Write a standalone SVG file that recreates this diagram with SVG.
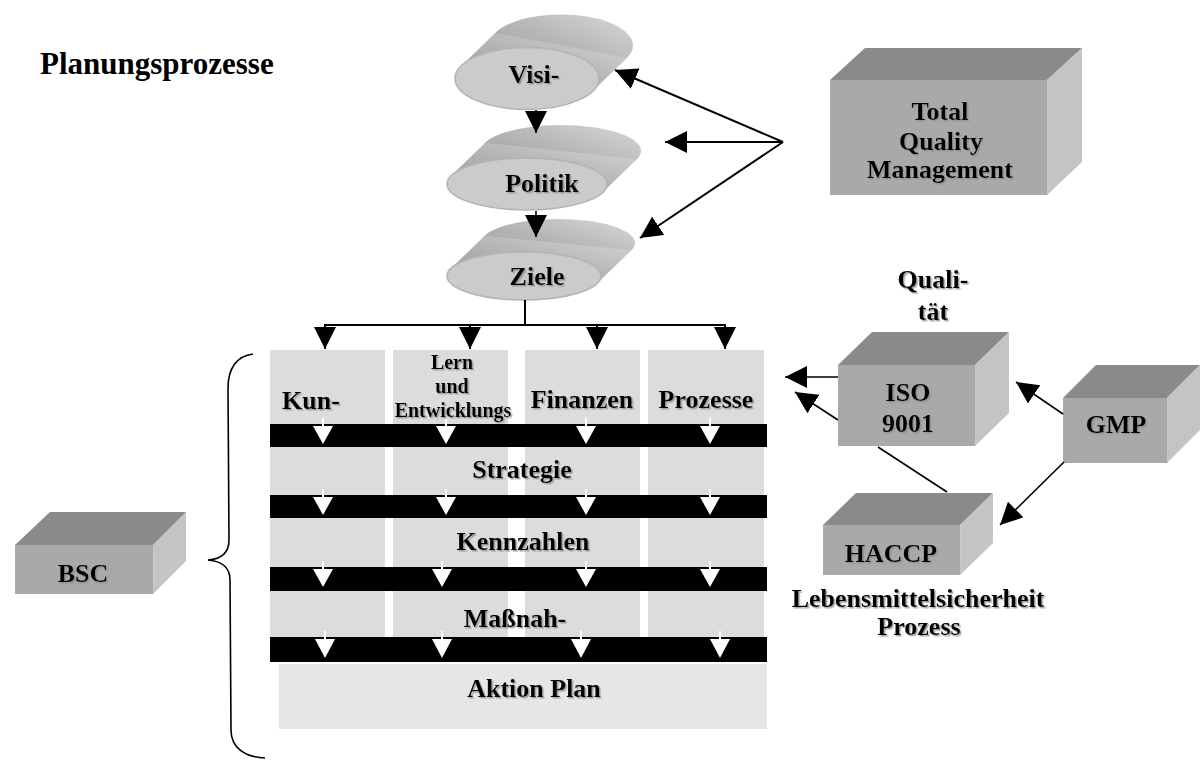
<svg xmlns="http://www.w3.org/2000/svg" width="1200" height="760" viewBox="0 0 1200 760">
<defs>
<style>
.t{font-family:"Liberation Serif","Times New Roman",serif;font-weight:bold;font-size:26px;fill:#000;text-anchor:middle}
.sh{filter:url(#tsh)}
.small{font-size:20px}
.title{font-size:31px;text-anchor:start}
.col{fill:#dcdcdc}
.bar{fill:#000}
.warr{fill:#fff}
.wstem{stroke:#fff;stroke-width:2}
.front{fill:#a9a9a9}
.top{fill:#8a8a8a}
.side{fill:#c4c4c4}
.edge{fill:none;stroke:#c9c9c9;stroke-width:1}
.cylside{fill:url(#cylg)}
.cylfront{fill:#cbcbcb;stroke:#b3b3b3;stroke-width:1.5}
.ln{stroke:#000;stroke-width:1.6;fill:none}
.ln2{stroke:#000;stroke-width:2;fill:none}
</style>
<linearGradient id="cylg" x1="0" y1="1" x2="1" y2="0">
<stop offset="0" stop-color="#999999"/>
<stop offset="0.55" stop-color="#b8b8b8"/>
<stop offset="1" stop-color="#d8d8d8"/>
</linearGradient>
<filter id="tsh" x="-10%" y="-10%" width="130%" height="140%">
<feDropShadow dx="1.5" dy="1.5" stdDeviation="0.4" flood-color="#8c8c8c" flood-opacity="0.8"/>
</filter>
<marker id="ah" viewBox="0 0 10 10" refX="10" refY="5" markerUnits="userSpaceOnUse" markerWidth="22" markerHeight="22" orient="auto">
<path d="M0,0 L10,5 L0,10 Z" fill="#000"/>
</marker>
</defs>

<rect width="1200" height="760" fill="#fff"/>

<text class="t title" x="40" y="74">Planungsprozesse</text>

<g id="matrix">
<rect class="col" x="270" y="350" width="115" height="290"/>
<rect class="col" x="393" y="350" width="115" height="290"/>
<rect class="col" x="525" y="350" width="115" height="290"/>
<rect class="col" x="648" y="350" width="116" height="290"/>
<rect x="279" y="664" width="488" height="65" fill="#e6e6e6"/>
<rect class="bar" x="270" y="424" width="497" height="23"/>
<rect class="bar" x="270" y="495" width="497" height="23"/>
<rect class="bar" x="270" y="567" width="497" height="24"/>
<rect class="bar" x="270" y="637" width="497" height="25"/>
</g>

<g id="white-arrows">
<line class="wstem" x1="323" y1="418" x2="323" y2="428"/><path class="warr" d="M313,426 L333,426 L323,444 Z"/>
<line class="wstem" x1="446" y1="418" x2="446" y2="428"/><path class="warr" d="M436,426 L456,426 L446,444 Z"/>
<line class="wstem" x1="586" y1="418" x2="586" y2="428"/><path class="warr" d="M576,426 L596,426 L586,444 Z"/>
<line class="wstem" x1="710" y1="418" x2="710" y2="428"/><path class="warr" d="M700,426 L720,426 L710,444 Z"/>

<line class="wstem" x1="323" y1="489" x2="323" y2="499"/><path class="warr" d="M313,497 L333,497 L323,515 Z"/>
<line class="wstem" x1="446" y1="489" x2="446" y2="499"/><path class="warr" d="M436,497 L456,497 L446,515 Z"/>
<line class="wstem" x1="586" y1="489" x2="586" y2="499"/><path class="warr" d="M576,497 L596,497 L586,515 Z"/>
<line class="wstem" x1="710" y1="489" x2="710" y2="499"/><path class="warr" d="M700,497 L720,497 L710,515 Z"/>

<line class="wstem" x1="323" y1="561" x2="323" y2="571"/><path class="warr" d="M313,569 L333,569 L323,587 Z"/>
<line class="wstem" x1="442" y1="561" x2="442" y2="571"/><path class="warr" d="M432,569 L452,569 L442,587 Z"/>
<line class="wstem" x1="586" y1="561" x2="586" y2="571"/><path class="warr" d="M576,569 L596,569 L586,587 Z"/>
<line class="wstem" x1="710" y1="561" x2="710" y2="571"/><path class="warr" d="M700,569 L720,569 L710,587 Z"/>

<line class="wstem" x1="325" y1="631" x2="325" y2="641"/><path class="warr" d="M315,639 L335,639 L325,658 Z"/>
<line class="wstem" x1="442" y1="631" x2="442" y2="641"/><path class="warr" d="M432,639 L452,639 L442,658 Z"/>
<line class="wstem" x1="581" y1="631" x2="581" y2="641"/><path class="warr" d="M571,639 L591,639 L581,658 Z"/>
<line class="wstem" x1="720" y1="631" x2="720" y2="641"/><path class="warr" d="M710,639 L730,639 L720,658 Z"/>
</g>

<g id="matrix-labels">
<text class="t sh" x="311" y="409">Kun-</text>
<text class="t sh small" x="452" y="369">Lern</text>
<text class="t sh small" x="452" y="393">und</text>
<text class="t sh small" x="453" y="417">Entwicklungs</text>
<text class="t sh" x="582" y="408">Finanzen</text>
<text class="t sh" x="706" y="408">Prozesse</text>
<text class="t sh" x="522" y="478">Strategie</text>
<text class="t sh" x="523" y="550">Kennzahlen</text>
<text class="t sh" x="515" y="627">Maßnah-</text>
<text class="t sh" x="534" y="697">Aktion Plan</text>
</g>

<g id="visi">
<ellipse class="cylside" cx="561" cy="45.5" rx="72" ry="31"/>
<path class="cylside" d="M461.2,65.9 L495.2,32.9 L626.8,58.1 L592.8,91.1 Z"/>
<ellipse class="cylfront" cx="527" cy="78.5" rx="72" ry="31"/>
<text class="t sh" x="534" y="83">Visi-</text>
</g>
<g id="politik">
<ellipse class="cylside" cx="561" cy="151" rx="80" ry="26"/>
<path class="cylside" d="M451.2,175.8 L485.2,142.8 L636.8,159.2 L602.8,192.2 Z"/>
<ellipse class="cylfront" cx="527" cy="184" rx="80" ry="26"/>
<text class="t sh" x="542" y="192">Politik</text>
</g>
<g id="ziele">
<ellipse class="cylside" cx="558" cy="243" rx="77" ry="24"/>
<path class="cylside" d="M450.7,268.7 L484.7,235.7 L631.3,250.3 L597.3,283.3 Z"/>
<ellipse class="cylfront" cx="524" cy="276" rx="77" ry="24"/>
<text class="t sh" x="537" y="285">Ziele</text>
</g>

<g id="tqm">
<path class="top" d="M830,80 L865,48 L1082,48 L1047,80 Z"/>
<path class="side" d="M1047,80 L1082,48 L1082,162 L1047,195 Z"/>
<rect class="front" x="830" y="80" width="217" height="115"/>
<line class="edge" x1="1047.5" y1="80" x2="1047.5" y2="195"/>
<text class="t sh" x="940" y="120">Total</text>
<text class="t sh" x="941" y="150">Quality</text>
<text class="t sh" x="940" y="178">Management</text>
</g>
<g id="iso">
<path class="top" d="M838,365 L872,332 L1009,332 L975,365 Z"/>
<path class="side" d="M975,365 L1009,332 L1009,413 L975,446 Z"/>
<rect class="front" x="838" y="365" width="137" height="81"/>
<line class="edge" x1="975.5" y1="365" x2="975.5" y2="446"/>
<text class="t sh" x="908" y="401">ISO</text>
<text class="t sh" x="908" y="432">9001</text>
</g>
<text class="t sh" x="933" y="288">Quali-</text>
<text class="t sh" x="933" y="320">tät</text>
<g id="gmp">
<path class="top" d="M1063,398 L1096,365 L1200,365 L1167,398 Z"/>
<path class="side" d="M1167,398 L1200,365 L1200,430 L1167,463 Z"/>
<rect class="front" x="1063" y="398" width="104" height="65"/>
<line class="edge" x1="1167.5" y1="398" x2="1167.5" y2="463"/>
<text class="t sh" x="1116" y="433">GMP</text>
</g>
<g id="haccp">
<path class="top" d="M823,525 L856,493 L993,493 L960,525 Z"/>
<path class="side" d="M960,525 L993,493 L993,543 L960,575 Z"/>
<rect class="front" x="823" y="525" width="137" height="50"/>
<line class="edge" x1="960.5" y1="525" x2="960.5" y2="575"/>
<text class="t sh" x="891" y="562">HACCP</text>
</g>
<text class="t sh" x="918" y="607">Lebensmittelsicherheit</text>
<text class="t sh" x="919" y="635">Prozess</text>
<g id="bsc">
<path class="top" d="M15,545 L50,512 L186,512 L153,545 Z"/>
<path class="side" d="M153,545 L186,512 L186,561 L153,594 Z"/>
<rect class="front" x="15" y="545" width="138" height="49"/>
<line class="edge" x1="153.5" y1="545" x2="153.5" y2="594"/>
<text class="t sh" x="83" y="582">BSC</text>
</g>

<g id="connectors">
<line class="ln" x1="536" y1="110" x2="536" y2="133" marker-end="url(#ah)"/>
<line class="ln" x1="536" y1="211" x2="536" y2="237" marker-end="url(#ah)"/>
<line class="ln2" x1="783" y1="142" x2="615" y2="70" marker-end="url(#ah)"/>
<line class="ln2" x1="783" y1="142" x2="665" y2="142" marker-end="url(#ah)"/>
<line class="ln2" x1="783" y1="142" x2="640" y2="238" marker-end="url(#ah)"/>
<path class="ln2" d="M525,300 L525,325 M324,325 L726,325"/>
<line class="ln2" x1="325" y1="324" x2="325" y2="349" marker-end="url(#ah)"/>
<line class="ln2" x1="470" y1="324" x2="470" y2="349" marker-end="url(#ah)"/>
<line class="ln2" x1="597" y1="324" x2="597" y2="349" marker-end="url(#ah)"/>
<line class="ln2" x1="725" y1="324" x2="725" y2="349" marker-end="url(#ah)"/>
<line class="ln" x1="838" y1="377" x2="785" y2="377" marker-end="url(#ah)"/>
<line class="ln" x1="838" y1="420" x2="795" y2="392" marker-end="url(#ah)"/>
<line class="ln" x1="878" y1="447" x2="947" y2="492"/>
<line class="ln" x1="1063" y1="414" x2="1016" y2="382" marker-end="url(#ah)"/>
<line class="ln" x1="1064" y1="462" x2="1000" y2="525" marker-end="url(#ah)"/>
<path class="ln" d="M253,354 C237,356 228,368 228,388 L229,540 C229,552 222,559 208,560 C222,561 230,568 230,580 L231,730 C231,748 245,757 265,758"/>
</g>
</svg>
